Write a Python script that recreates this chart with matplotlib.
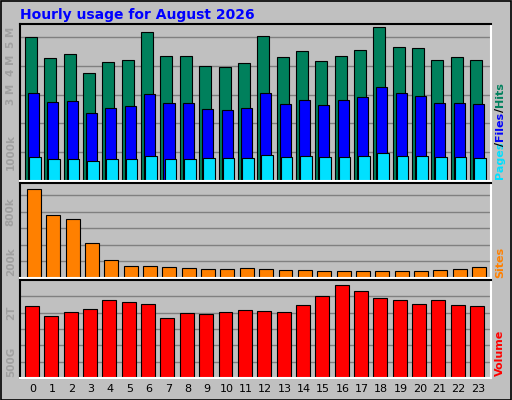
import matplotlib
matplotlib.use("Agg")
import matplotlib.pyplot as plt
import numpy as np

hours = list(range(24))
hits = [5.0,4.26,4.4,3.75,4.13,4.2,5.17,4.35,4.35,4.0,3.97,4.1,5.05,4.3,4.5,4.15,4.35,4.55,5.35,4.65,4.6,4.2,4.3,4.2]
files = [3.05,2.75,2.78,2.35,2.53,2.6,3.03,2.72,2.72,2.5,2.45,2.53,3.05,2.68,2.82,2.63,2.8,2.9,3.25,3.05,2.95,2.72,2.72,2.68]
pages = [0.82,0.75,0.78,0.68,0.75,0.75,0.88,0.78,0.78,0.8,0.8,0.8,0.9,0.85,0.86,0.84,0.85,0.88,0.98,0.88,0.88,0.82,0.82,0.8]
sites = [1.08,0.76,0.71,0.42,0.22,0.15,0.15,0.135,0.12,0.11,0.11,0.12,0.115,0.1,0.1,0.09,0.09,0.09,0.09,0.09,0.09,0.1,0.115,0.135]
volume = [2.19,1.9,2.03,2.12,2.38,2.34,2.28,1.84,2.0,1.97,2.03,2.09,2.06,2.03,2.25,2.5,2.84,2.66,2.44,2.38,2.28,2.38,2.22,2.19]

W, H = 512, 400
fig = plt.figure(figsize=(W/100, H/100), dpi=100, facecolor="#C0C0C0")
fig.add_artist(plt.Rectangle((0.5/W, 0.5/H), 1-1.5/W, 1-1.5/H, transform=fig.transFigure,
                             fill=False, edgecolor="black", lw=1.2))
fig.text(20/W, 1-15/H, "Hourly usage for August 2026", color="#0000FF",
         fontsize=10, fontweight="bold", ha="left", va="center")

def ax_px(x0, y0, x1, y1):
    return fig.add_axes([x0/W, 1-y1/H, (x1-x0)/W, (y1-y0)/H], facecolor="#C0C0C0")

xl = (-0.67, 23.67)
def style(ax, ymax, ticks, labels):
    ax.set_xlim(*xl); ax.set_ylim(0, ymax)
    ax.set_axisbelow(True)
    ax.yaxis.grid(True, color="#808080", lw=1)
    ax.set_yticks(ticks)
    ax.set_yticklabels(labels, rotation=90, va="center", color="#A0A0A0", fontsize=7.5, fontweight="bold")
    ax.tick_params(axis="y", length=0, pad=3)
    for s in ax.spines.values():
        s.set_linewidth(1.5)
    ax.spines["top"].set_color("black"); ax.spines["left"].set_color("black")
    ax.spines["right"].set_color("white"); ax.spines["bottom"].set_color("white")

x = np.array(hours)
a1 = ax_px(20, 24, 491, 181)
a1.bar(x-0.1, hits, 0.62, color="#00805C", edgecolor="black", lw=0.8)
a1.bar(x+0.03, files, 0.57, color="#0000FF", edgecolor="black", lw=0.8)
a1.bar(x+0.1, pages, 0.6, color="#00E0FF", edgecolor="black", lw=0.8)
style(a1, 5.45, [1, 2, 3, 4, 5], ["1000k", "", "3 M", "4 M", "5 M"])
a1.set_xticks([])

a2 = ax_px(20, 183, 491, 278)
a2.bar(x+0.05, sites, 0.72, color="#FF8000", edgecolor="black", lw=0.8)
style(a2, 1.15, [0.2, 0.4, 0.6, 0.8, 1.0], ["200k", "", "", "800k", ""])
a2.set_xticks([])

a3 = ax_px(20, 280, 491, 378)
a3.bar(x-0.05, volume, 0.72, color="#FF0000", edgecolor="black", lw=0.8)
style(a3, 3.0, [0.5, 1.0, 1.5, 2.0, 2.5], ["500G", "", "", "2T", ""])
a3.set_xticks(hours)
a3.set_xticklabels([str(h) for h in hours], fontsize=8)
a3.tick_params(axis="x", length=0, pad=4)

def rlab(y, txt, col):
    fig.text(500/W, 1-y/H, txt, color=col, rotation=90, ha="center", va="bottom",
             fontsize=8, fontweight="bold")
rlab(179, "Pages", "#00E0FF")
rlab(146, "/", "#000000")
rlab(141, "Files", "#0000FF")
rlab(112, "/", "#000000")
rlab(107, "Hits", "#00805C")
rlab(278, "Sites", "#FF8000")
rlab(376, "Volume", "#FF0000")

fig.savefig("out.png", dpi=100, facecolor=fig.get_facecolor())
